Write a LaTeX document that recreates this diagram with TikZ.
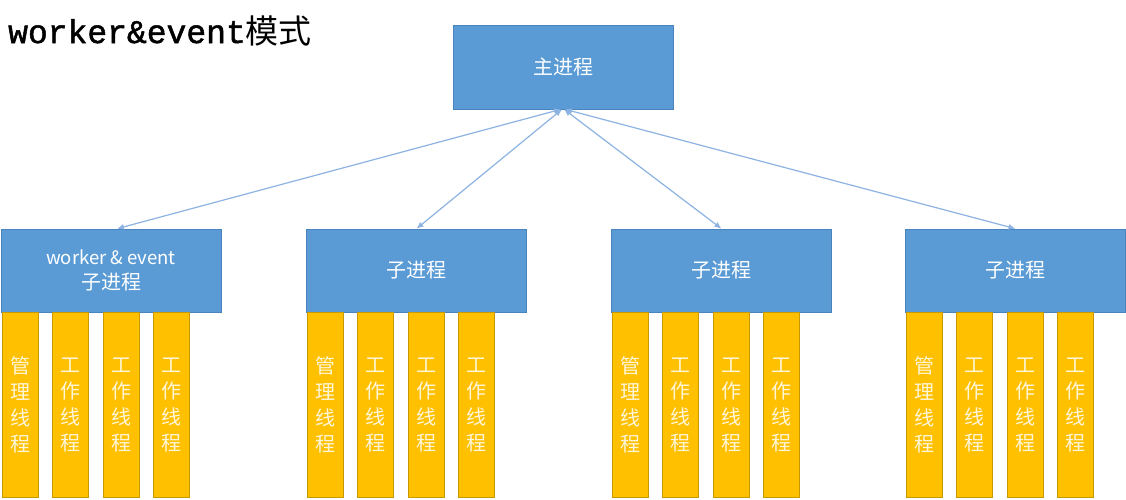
\documentclass[tikz,border=0pt]{standalone}
\usepackage{fontspec}
\setmainfont{Noto Sans CJK SC}
\newfontfamily\titlemono[FakeBold=1.5]{Liberation Mono}
\usetikzlibrary{arrows.meta}
\definecolor{boxblue}{HTML}{5B9BD5}
\definecolor{boxedge}{HTML}{4A84BD}
\definecolor{bargold}{HTML}{FFC000}
\definecolor{baredge}{HTML}{C99A00}
\definecolor{arrowblue}{HTML}{8DB3E2}
\definecolor{bartext}{HTML}{FFF6DA}
\tikzset{
  proc/.style={draw=boxedge, fill=boxblue, line width=0.6pt, minimum width=220pt, minimum height=83pt, inner sep=0pt, text=white, font=\fontsize{20}{25}\selectfont, align=center},
  thread/.style={draw=baredge, fill=bargold, line width=0.6pt, minimum width=36pt, minimum height=185pt, inner sep=0pt, text=bartext, font=\fontsize{20}{26}\selectfont, align=center},
  link/.style={draw=arrowblue, line width=1.2pt, {Latex[length=7pt,width=6pt]}-{Latex[length=7pt,width=6pt]}}
}
\begin{document}
\begin{tikzpicture}[x=1pt,y=-1pt]
\useasboundingbox[fill=white] (0,0) rectangle (1126,499);
\node[anchor=base west, inner sep=0pt, font=\fontsize{33}{36}\selectfont] (title) at (8,43) {{\titlemono worker\&event}模式};
\node[proc, minimum height=84pt] (main) at (563,67) {主进程};
\node[proc, font=\fontsize{18.5}{25}\selectfont] (c1) at (111,270.5) {\raisebox{-2pt}{worker \& event}\\{\fontsize{20}{25}\selectfont\raisebox{-2pt}{子进程}}};
\node[proc] (c2) at (416.5,270.5) {子进程};
\node[proc] (c3) at (721.5,270.5) {子进程};
\node[proc] (c4) at (1015.5,270.5) {子进程};
\foreach \c/\L in {1/1,2/306,3/611,4/905}{
  \node[thread] (t\c a) at (\L+19,404.5) {管\\理\\线\\程};
  \node[thread] (t\c b) at (\L+69.5,404.5) {工\\作\\线\\程};
  \node[thread] (t\c c) at (\L+120,404.5) {工\\作\\线\\程};
  \node[thread] (t\c d) at (\L+170.5,404.5) {工\\作\\线\\程};
}
\draw[link] ([xshift=-2pt]main.south) -- ([xshift=6pt]c1.north);
\draw[link] ([xshift=-1pt]main.south) -- (c2.north);
\draw[link] ([xshift=1pt]main.south) -- (c3.north);
\draw[link] ([xshift=2pt]main.south) -- (c4.north);
\end{tikzpicture}
\end{document}
